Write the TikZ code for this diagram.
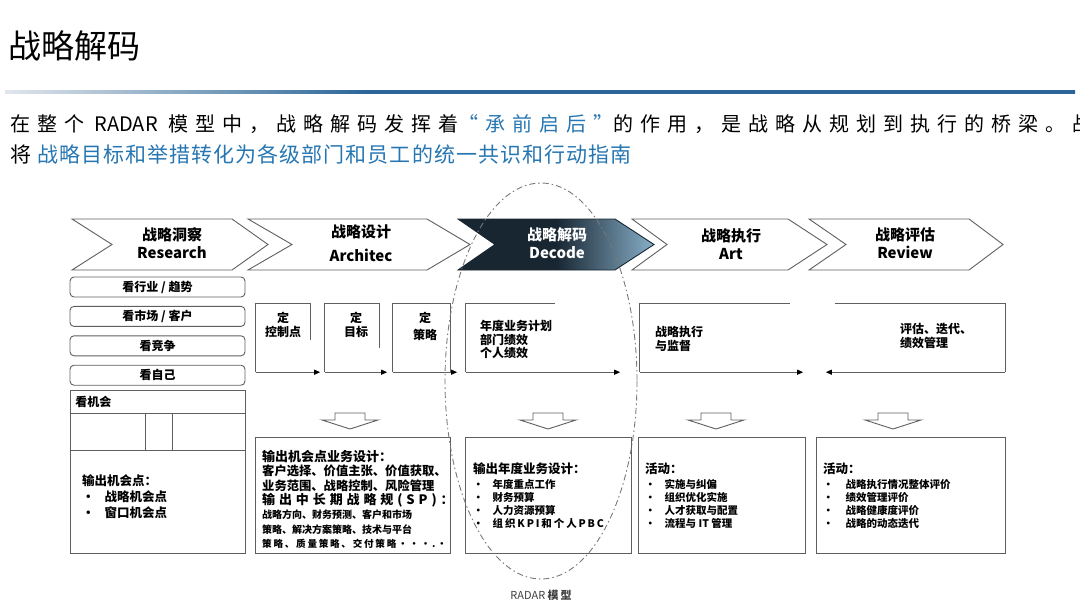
\documentclass[tikz,border=0pt]{standalone}
\usepackage{fontspec}
\setmainfont{Noto Sans CJK SC}
\newfontfamily\spacedfont[LetterSpace=35]{Noto Sans CJK SC}
\newfontfamily\guidefont[LetterSpace=5]{Noto Sans CJK SC}
\newfontfamily\loosefont[LetterSpace=30]{Noto Sans CJK SC}
\newfontfamily\midfont[LetterSpace=18]{Noto Sans CJK SC}
\usetikzlibrary{positioning,arrows.meta}
\definecolor{linegray}{RGB}{95,95,95}
\definecolor{textblue}{RGB}{38,118,178}
\definecolor{ruleblue}{RGB}{42,102,152}
\definecolor{rulelight}{RGB}{225,230,235}
\definecolor{decodedark}{RGB}{24,38,50}
\definecolor{decodelight}{RGB}{135,175,200}
\definecolor{radargray}{RGB}{120,120,120}
\pgfdeclarehorizontalshading{decodefill}{100bp}{color(0bp)=(decodedark); color(50bp)=(decodedark); color(75bp)=(decodelight); color(100bp)=(decodelight)}
\pgfdeclarehorizontalshading{rulefade}{100bp}{color(0bp)=(rulelight); color(25bp)=(rulelight); color(42bp)=(ruleblue); color(100bp)=(ruleblue)}

\begin{document}
\begin{tikzpicture}[
    x=1pt, y=-1pt,
    chevron/.style={draw=linegray, line width=0.9pt, fill=white},
    chevtext/.style={align=center, inner sep=0pt, font=\fontsize{15}{18}\selectfont\bfseries},
    sidebox/.style={draw=linegray, rounded corners=4pt, line width=0.9pt,
        minimum width=175pt, minimum height=20pt, inner sep=0pt,
        font=\fontsize{12}{14}\selectfont\bfseries},
    outbox/.style={draw=linegray, line width=0.9pt, inner sep=0pt},
    stagebox/.style={minimum height=68pt, inner sep=0pt},
    rim/.style={draw=linegray, line width=0.9pt},
    flowarr/.style={-{Triangle[length=6pt,width=5pt,color=black]}, draw=linegray, line width=0.9pt},
    hollow/.style={draw=linegray, line width=0.9pt, fill=white},
    boxtext/.style={inner sep=0pt, align=left, font=\fontsize{12}{14}\selectfont\bfseries},
    itemtext/.style={inner sep=0pt, align=left, font=\fontsize{10.5}{13}\selectfont\bfseries},
    radar/.style={draw=radargray, line width=0.9pt, dash pattern=on 6pt off 3pt on 1.5pt off 3pt}
]
\clip (0,0) rectangle (1080,610);

% heading
\node[anchor=west, inner sep=0pt, font=\fontsize{33}{36}\selectfont] (title) at (8,46) {战略解码};
\shade[shading=rulefade] (5,90.5) rectangle (1075,93.5);
\node[anchor=west, inner sep=0pt, font=\fontsize{20}{24}\selectfont] (intro) at (10,124)
    {\spacedfont 在整个\makebox[84pt][c]{\normalfont RADAR}模型中，战略解码发挥着\textcolor{textblue}{“承前启后”}的作用，是战略从规划到执行的桥梁。战};
\node[anchor=west, inner sep=0pt, font=\fontsize{21}{24}\selectfont] (guide) at (10,154)
    {将\hspace{6pt}\guidefont\textcolor{textblue}{战略目标和举措转化为各级部门和员工的统一共识和行动指南}};

% stage chevrons
\foreach \l/\n/\r/\t in {72/112/232/268, 248/292/427/470, 632/667/788/827, 809/846/969/1003}
    \draw[chevron] (\l,219) -- (\r,219) -- (\t,244.5) -- (\r,270) -- (\l,270) -- (\n,244.5) -- cycle;
\shade[shading=decodefill, draw=decodedark, line width=0.9pt]
    (458,219) -- (615,219) -- (654,244.5) -- (615,270) -- (458,270) -- (495,244.5) -- cycle;

\node[chevtext] (research) at (172,243) {战略洞察\\Research};
\node[chevtext] (architec) at (361,243.5) {战略设计\\[6pt]Architec};
\node[chevtext, text=white] (decode) at (557,243) {战略解码\\Decode};
\node[chevtext] (art) at (731,244) {战略执行\\Art};
\node[chevtext] (review) at (905,243) {战略评估\\Review};

% research column
\node[sidebox] (industry) at (157.5,287) {看行业 / 趋势};
\node[sidebox, below=8.5pt of industry] (market) {看市场 / 客户};
\node[sidebox, below=8.5pt of market] (rivals) {看竞争};
\node[sidebox, below=8.5pt of rivals] (self) {看自己};

\node[outbox, anchor=north west, minimum width=175pt, minimum height=23pt, text width=165pt,
    inner xsep=5pt, align=left, font=\fontsize{12}{14}\selectfont\bfseries] (chance) at (70,390) {看机会};
\draw[rim] (chance.south west) rectangle (245,450);
\draw[rim] (145,413) -- (145,450) (172,413) -- (172,450);
\node[outbox, anchor=north west, minimum width=175pt, minimum height=103pt] (chanceout) at (70,450) {};
\node[boxtext, anchor=west, font=\fontsize{12.5}{16}\selectfont\bfseries] (chancetext)
    at ([xshift=12pt,yshift=5pt]chanceout.west) {输出机会点：\\•\hspace{10pt}战略机会点\\•\hspace{10pt}窗口机会点};

% design steps
\node[stagebox, minimum width=54pt] (ctrlbox) at (283,338) {};
\node[stagebox, minimum width=54pt] (goalbox) at (352,338) {};
\node[stagebox, minimum width=57pt] (stratbox) at (421.5,338) {};
\draw[rim] (ctrlbox.south west) -- (ctrlbox.north west) -- (ctrlbox.north east) -- ([yshift=-36pt]ctrlbox.north east);
\draw[rim] (goalbox.south west) -- (goalbox.north west) -- (goalbox.north east) -- ([yshift=-44pt]goalbox.north east);
\draw[rim] (stratbox.south west) -- (stratbox.north west) -- (stratbox.north east) -- (stratbox.south east);
\draw[flowarr] (ctrlbox.south west) -- ([xshift=10pt]ctrlbox.south east);
\draw[flowarr] (goalbox.south west) -- ([xshift=8pt]goalbox.south east);
\draw[flowarr] (stratbox.south west) -- ([xshift=7pt]stratbox.south east);
\node[boxtext, align=center] (ctrltext) at (283,325) {定\\控制点};
\node[boxtext, align=center] (goaltext) at (356,325) {定\\目标};
\node[boxtext, align=center] (strattext) at (425,326.5) {定\\[3pt]策略};

% decode, art, review steps
\node[stagebox, minimum width=154pt] (planbox) at (543,338) {};
\draw[rim] (planbox.south west) -- (planbox.north west) -- ([xshift=89pt]planbox.north west);
\draw[flowarr] (planbox.south west) -- (planbox.south east);
\node[boxtext, anchor=north west, font=\fontsize{12}{13.5}\selectfont\bfseries] (plantext) at (480,320) {年度业务计划\\部门绩效\\个人绩效};

\node[stagebox, minimum width=163pt] (execbox) at (721.5,338) {};
\draw[rim] (execbox.south west) -- (execbox.north west) -- ([xshift=150pt]execbox.north west);
\draw[flowarr] (execbox.south west) -- (execbox.south east);
\node[boxtext, anchor=west] (exectext) at (655,339) {战略执行\\与监督};

\node[stagebox, minimum width=179pt] (evalbox) at (915.5,338) {};
\draw[rim] ([xshift=9pt]evalbox.north west) -- (evalbox.north east) -- (evalbox.south east);
\draw[flowarr] (evalbox.south east) -- (evalbox.south west);
\node[boxtext, anchor=west] (evaltext) at (900,336) {评估、迭代、\\绩效管理};

% hollow down arrows
\foreach \ax in {350,548,716,893}
    \draw[hollow] (\ax-15,413) -- (\ax+15,413) -- (\ax+15,420) -- (\ax+28,420) -- (\ax,429)
        -- (\ax-28,420) -- (\ax-15,420) -- cycle;

% outputs
\node[outbox, anchor=north west, minimum width=195pt, minimum height=116pt] (designout) at (255,437) {};
\node[boxtext, anchor=west, font=\fontsize{12.3}{14.4}\selectfont\bfseries] (designtext)
    at ([xshift=7pt,yshift=-4pt]designout.west) {%
    {\fontsize{13}{14.4}\selectfont 输出机会点业务设计：}\\
    客户选择、价值主张、价值获取、\\
    业务范围、战略控制、风险管理\\
    {\loosefont\fontsize{13}{14.4}\selectfont 输出中长期战略规(SP)：}\\
    {\fontsize{10}{14.4}\selectfont 战略方向、财务预测、客户和市场}\\
    {\fontsize{10}{14.4}\selectfont 策略、解决方案策略、技术与平台}\\
    {\midfont\fontsize{9.6}{14.4}\selectfont 策略、质量策略、交付策略···.·}};

\node[outbox, anchor=north west, minimum width=166pt, minimum height=116pt] (planout) at (465,437) {};
\node[itemtext, anchor=west] (planlist) at ([xshift=8pt]planout.west) {%
    {\fontsize{12.5}{13}\selectfont 输出年度业务设计：}\\[2pt]
    •\hspace{9pt}年度重点工作\\
    •\hspace{9pt}财务预算\\
    •\hspace{9pt}人力资源预算\\
    •\hspace{9pt}{\midfont 组织KPI和个人PBC}};

\node[outbox, anchor=north west, minimum width=167pt, minimum height=116pt] (execout) at (638,437) {};
\node[itemtext, anchor=west] (execlist) at ([xshift=7pt]execout.west) {%
    {\fontsize{12.5}{13}\selectfont 活动：}\\[2pt]
    •\hspace{9pt}实施与纠偏\\
    •\hspace{9pt}组织优化实施\\
    •\hspace{9pt}人才获取与配置\\
    •\hspace{9pt}流程与 IT 管理};

\node[outbox, anchor=north west, minimum width=189pt, minimum height=116pt] (evalout) at (816,437) {};
\node[itemtext, anchor=west] (evallist) at ([xshift=7pt]evalout.west) {%
    {\fontsize{12.5}{13}\selectfont 活动：}\\[2pt]
    •\hspace{12pt}战略执行情况整体评价\\
    •\hspace{12pt}绩效管理评价\\
    •\hspace{12pt}战略健康度评价\\
    •\hspace{12pt}战略的动态迭代};

% RADAR focus
\draw[radar] (541,381) ellipse [x radius=96, y radius=198];
\node[inner sep=0pt, font=\fontsize{11}{13}\selectfont, text=black!75] (radarlabel) at (541,595) {RADAR {\bfseries 模\,型}};

\end{tikzpicture}
\end{document}
